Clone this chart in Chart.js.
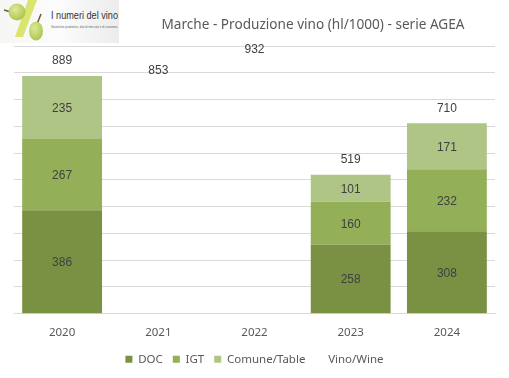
<!DOCTYPE html>
<html>
<head>
<meta charset="utf-8">
<script src="https://cdn.jsdelivr.net/npm/chart.js@4"></script>
<style>
body { margin: 0; background: #fff; }
#wrap { position: relative; width: 509px; height: 378px; overflow: hidden; }
#logo { position: absolute; left: 0; top: 0; }
#title { position: absolute; left: 113px; width: 400px; top: 14px; text-align: center; font: 13.6px "Noto Sans"; color: #595959; white-space: nowrap; }
</style>
</head>
<body>
<div id="wrap">
	<canvas id="chart" width="509" height="378"></canvas>
	<svg id="logo" width="119" height="43">
		<defs>
			<linearGradient id="bg" x1="0" x2="1" y1="0" y2="0">
				<stop offset="0" stop-color="#f6f6f4"/>
				<stop offset="0.5" stop-color="#fcfcfc"/>
				<stop offset="1" stop-color="#ececec"/>
			</linearGradient>
			<radialGradient id="grape" cx="0.4" cy="0.35" r="0.75">
				<stop offset="0" stop-color="#dfe99a"/>
				<stop offset="1" stop-color="#a5c243"/>
			</radialGradient>
		</defs>
		<rect width="119" height="43" fill="url(#bg)"/>
		<polygon points="28,0 37,0 23,37 15,37" fill="#d9e56f"/>
		<path d="M4 10 L11 12" stroke="#6b5a2c" stroke-width="1.5"/>
		<path d="M41 14 L37 24" stroke="#6b5a2c" stroke-width="1.5"/>
		<ellipse cx="17" cy="12" rx="8.5" ry="8.5" fill="url(#grape)"/>
		<ellipse cx="36" cy="31" rx="7" ry="9.5" fill="url(#grape)"/>
		<text x="51" y="19" font-family="Liberation Sans" font-size="11" fill="#333" textLength="67" lengthAdjust="spacingAndGlyphs">I numeri del vino</text>
		<text x="51" y="28" font-family="Liberation Sans" font-size="3.5" fill="#666" textLength="67" lengthAdjust="spacingAndGlyphs">Statistiche produttive, dati di mercato e di consumo,</text>
	</svg>
	<div id="title">Marche - Produzione vino (hl/1000) - serie AGEA</div>
</div>
<script>
// 데이터
const years = ['2020', '2021', '2022', '2023', '2024'];
const doc = [386, null, null, 258, 308];
const igt = [267, null, null, 160, 232];
const comune = [235, null, null, 101, 171];
const totale = [889, 853, 932, 519, 710];
const yMax = 1000;
const yStep = 100;

const textColor = '#595959';
const labelColor = '#404040';

// 막대 안쪽 값 + 합계 값 표시
const valueLabels = {
	id: 'valueLabels',
	afterDatasetsDraw(chart) {
		const ctx = chart.ctx;
		ctx.save();
		ctx.font = '12px "Liberation Sans"';
		ctx.fillStyle = labelColor;
		ctx.textAlign = 'center';
		ctx.textBaseline = 'middle';
		chart.data.datasets.forEach((ds, i) => {
			chart.getDatasetMeta(i).data.forEach((el, j) => {
				if (ds.data[j] === null) return;
				if (ds.type === 'line') {
					ctx.fillText(ds.data[j], el.x, el.y - 15);
				} else {
					ctx.fillText(ds.data[j], el.x, (el.y + el.base) / 2 + 1);
				}
			});
		});
		ctx.restore();
	}
};

new Chart(document.getElementById('chart'), {
	data: {
		labels: years,
		datasets: [
			{ type: 'bar', label: 'DOC', data: doc, backgroundColor: '#7A9144', categoryPercentage: 0.83, barPercentage: 1 },
			{ type: 'bar', label: 'IGT', data: igt, backgroundColor: '#93AF58', categoryPercentage: 0.83, barPercentage: 1 },
			{ type: 'bar', label: 'Comune/Table', data: comune, backgroundColor: '#AFC585', categoryPercentage: 0.83, barPercentage: 1 },
			{ type: 'line', label: 'Vino/Wine', data: totale, showLine: false, pointRadius: 0, borderColor: 'transparent', backgroundColor: 'transparent' }
		]
	},
	options: {
		responsive: false,
		animation: false,
		layout: { padding: { left: 14, right: 14, top: 46, bottom: 3 } },
		scales: {
			x: {
				stacked: true,
				grid: { display: false },
				border: { color: '#D9D9D9' },
				ticks: { color: textColor, font: { size: 11.5, family: 'Noto Sans' }, padding: 4 }
			},
			y: {
				stacked: true,
				min: 0,
				max: yMax,
				ticks: { display: false, stepSize: yStep },
				grid: { color: '#D9D9D9', drawTicks: false },
				border: { display: false }
			}
		},
		plugins: {
			title: { display: false },
			tooltip: { enabled: false },
			legend: {
				position: 'bottom',
				labels: { boxWidth: 7, boxHeight: 7, padding: 10, color: textColor, font: { size: 11.5, family: 'Noto Sans' } }
			}
		}
	},
	plugins: [valueLabels]
});
</script>
</body>
</html>
